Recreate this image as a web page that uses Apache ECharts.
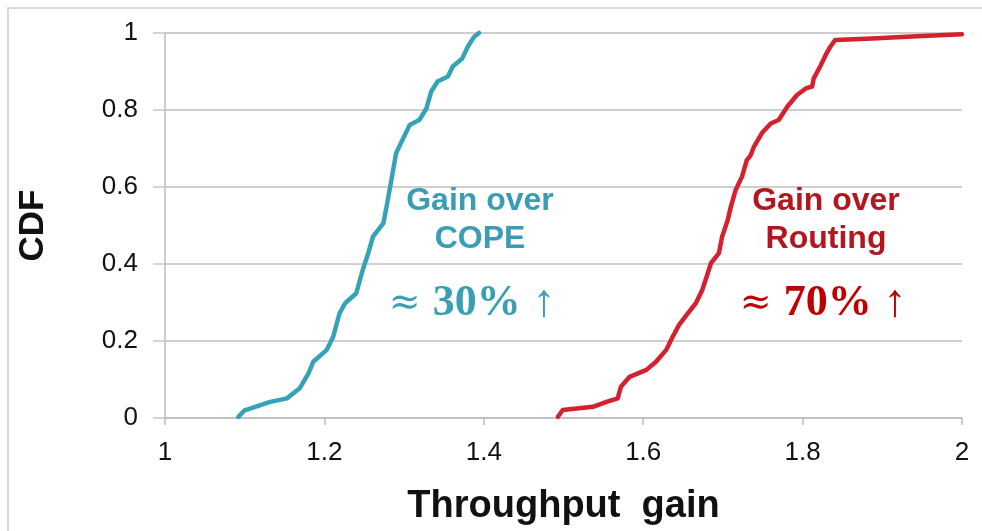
<!DOCTYPE html>
<html>
<head>
<meta charset="utf-8">
<script src="https://cdn.jsdelivr.net/npm/echarts@6/dist/echarts.min.js"></script>
<style>
  html, body { margin: 0; padding: 0; background: #ffffff; }
  #chart { width: 982px; height: 531px; }
</style>
</head>
<body>
<div id="chart"></div>
<script>
// CDF of throughput gain: two empirical curves
const copeGain = [1.092, 1.100, 1.132, 1.153, 1.169, 1.180, 1.186, 1.203, 1.211, 1.219, 1.226, 1.240, 1.248, 1.255, 1.261, 1.274, 1.278, 1.284, 1.290, 1.296, 1.307, 1.319, 1.328, 1.334, 1.342, 1.355, 1.361, 1.373, 1.380, 1.388, 1.394];
const copeCdf  = [0.003, 0.020, 0.042, 0.051, 0.077, 0.116, 0.146, 0.177, 0.211, 0.272, 0.298, 0.324, 0.384, 0.428, 0.471, 0.506, 0.549, 0.618, 0.688, 0.714, 0.761, 0.774, 0.804, 0.848, 0.874, 0.887, 0.913, 0.934, 0.965, 0.990, 1.000];

const routingGain = [1.493, 1.499, 1.537, 1.554, 1.568, 1.572, 1.583, 1.604, 1.616, 1.629, 1.637, 1.645, 1.656, 1.666, 1.674, 1.681, 1.685, 1.695, 1.699, 1.706, 1.710, 1.716, 1.724, 1.730, 1.735, 1.739, 1.749, 1.760, 1.770, 1.781, 1.793, 1.804, 1.812, 1.814, 1.822, 1.829, 1.835, 1.841, 1.887, 1.950, 2.000];
const routingCdf  = [0.003, 0.021, 0.029, 0.042, 0.051, 0.081, 0.107, 0.125, 0.146, 0.177, 0.211, 0.242, 0.272, 0.298, 0.332, 0.376, 0.402, 0.428, 0.471, 0.514, 0.549, 0.592, 0.627, 0.670, 0.683, 0.705, 0.740, 0.765, 0.774, 0.809, 0.839, 0.856, 0.861, 0.882, 0.913, 0.943, 0.965, 0.982, 0.986, 0.992, 0.997];

const xTicks = [1, 1.2, 1.4, 1.6, 1.8, 2];
const yTicks = [0, 0.2, 0.4, 0.6, 0.8, 1];

const pairs = (xs, ys) => xs.map((x, i) => [x, ys[i]]);

const BLUE = '#36a2b8';
const RED = '#d5202e';
const SANS = '"Liberation Sans", Arial, sans-serif';
const SERIF = '"Liberation Serif", "DejaVu Serif", serif';
const SERIF_SYM = '"DejaVu Serif", serif';

const chart = echarts.init(document.getElementById('chart'), null, { renderer: 'canvas' });

chart.setOption({
  animation: false,
  backgroundColor: '#ffffff',
  grid: { left: 165, right: 20, top: 33, bottom: 113, containLabel: false },
  xAxis: {
    type: 'value',
    min: xTicks[0],
    max: xTicks[xTicks.length - 1],
    interval: 0.2,
    name: 'Throughput  gain',
    nameLocation: 'middle',
    nameGap: 70,
    nameTextStyle: { fontFamily: SANS, fontWeight: 'bold', fontSize: 38, color: '#111', verticalAlign: 'top' },
    axisLine: { show: true, lineStyle: { color: '#bdbdbd', width: 1.5 } },
    axisTick: { show: true, length: 7, inside: false, lineStyle: { color: '#bdbdbd', width: 1.5 } },
    splitLine: { show: false },
    axisLabel: {
      margin: 22,
      fontFamily: SANS, fontSize: 26, color: '#111',
      formatter: v => String(parseFloat(v.toFixed(1)))
    }
  },
  yAxis: {
    type: 'value',
    min: yTicks[0],
    max: yTicks[yTicks.length - 1],
    interval: 0.2,
    name: 'CDF',
    nameLocation: 'middle',
    nameGap: 132,
    nameRotate: 90,
    nameTextStyle: { fontFamily: SANS, fontWeight: 'bold', fontSize: 35, color: '#111', verticalAlign: 'middle' },
    axisLine: { show: true, lineStyle: { color: '#bdbdbd', width: 1.5 } },
    axisTick: { show: true, length: 12, inside: false, lineStyle: { color: '#c6c6c6', width: 1.5 } },
    splitLine: { show: true, lineStyle: { color: '#cfcfcf', width: 2 } },
    axisLabel: {
      margin: 27,
      fontFamily: SANS, fontSize: 26, color: '#111',
      formatter: v => String(parseFloat(v.toFixed(1)))
    }
  },
  series: [
    {
      name: 'Gain over COPE',
      type: 'line',
      data: pairs(copeGain, copeCdf),
      showSymbol: false,
      clip: false,
      lineStyle: { color: BLUE, width: 4.5, cap: 'round', join: 'round' },
      z: 3
    },
    {
      name: 'Gain over Routing',
      type: 'line',
      data: pairs(routingGain, routingCdf),
      showSymbol: false,
      clip: false,
      lineStyle: { color: RED, width: 4.5, cap: 'round', join: 'round' },
      z: 3
    }
  ],
  graphic: [
    {
      type: 'rect',
      shape: { x: 8, y: 8, width: 990, height: 540 },
      style: { fill: 'none', stroke: '#d9d9d9', lineWidth: 2 },
      silent: true, z: 0
    },
    {
      type: 'text', x: 480, y: 220,
      style: {
        text: 'Gain over\nCOPE', fill: '#3a9db5',
        font: 'bold 32px ' + SANS, lineHeight: 38,
        align: 'center', verticalAlign: 'middle'
      }, z: 10
    },
    {
      type: 'text', x: 472, y: 304,
      style: {
        text: '{a|≈ }{b|30%}{c| ↑}',
        align: 'center', verticalAlign: 'middle',
        rich: {
          a: { fontFamily: SERIF_SYM, fontSize: 38, fill: '#3a9fb2' },
          b: { fontFamily: SERIF, fontSize: 44, fontWeight: 'bold', fill: '#3a9fb2' },
          c: { fontFamily: SERIF, fontSize: 46, fill: '#3a9fb2' }
        }
      }, z: 10
    },
    {
      type: 'text', x: 826, y: 220,
      style: {
        text: 'Gain over\nRouting', fill: '#b3161f',
        font: 'bold 32px ' + SANS, lineHeight: 38,
        align: 'center', verticalAlign: 'middle'
      }, z: 10
    },
    {
      type: 'text', x: 823, y: 304,
      style: {
        text: '{a|≈ }{b|70%}{c| ↑}',
        align: 'center', verticalAlign: 'middle',
        rich: {
          a: { fontFamily: SERIF_SYM, fontSize: 38, fill: '#c00000' },
          b: { fontFamily: SERIF, fontSize: 44, fontWeight: 'bold', fill: '#c00000' },
          c: { fontFamily: SERIF, fontSize: 46, fill: '#c00000' }
        }
      }, z: 10
    }
  ]
});
</script>
</body>
</html>
